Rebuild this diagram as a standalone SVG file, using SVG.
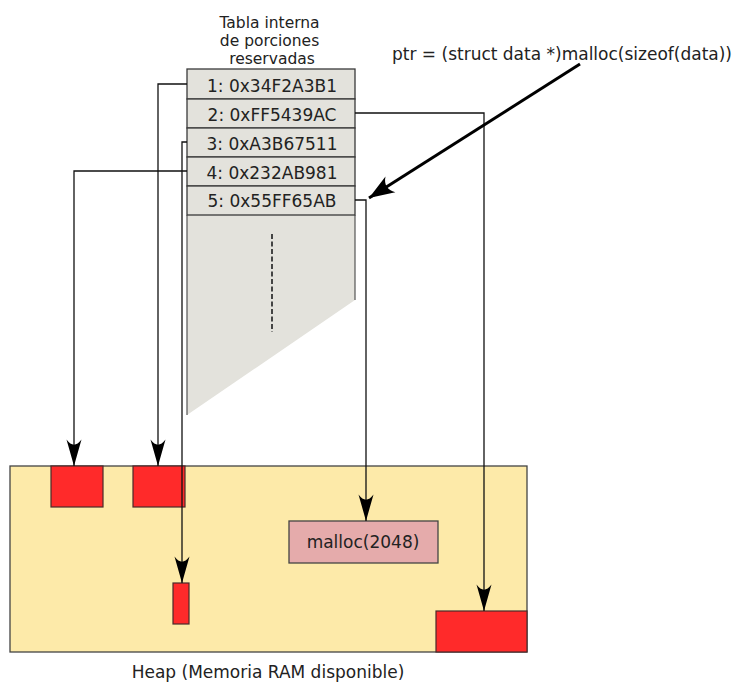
<svg xmlns="http://www.w3.org/2000/svg" width="735" height="682" viewBox="0 0 735 682">
  <style>
    .t { font-family: "DejaVu Sans", "Liberation Sans", sans-serif; fill: #222; }
    .row { fill: #e3e2dc; stroke: #3a3a3a; stroke-width: 1.3; }
    .blk { fill: #ff2a2a; stroke: #4a2a2a; stroke-width: 1.2; }
    .link { fill: none; stroke: #111; stroke-width: 1.3; marker-end: url(#dart); }
  </style>
  <defs>
    <marker id="dart" markerUnits="userSpaceOnUse" markerWidth="30" markerHeight="20" viewBox="-24 -8 26 16" refX="0" refY="0" orient="auto">
      <path d="M0,0 L-23,-6.5 C-17,-2 -17,2 -23,6.5 Z" fill="#000"/>
    </marker>
    <marker id="bigdart" markerUnits="userSpaceOnUse" markerWidth="30" markerHeight="24" viewBox="-24 -10 26 20" refX="0" refY="0" orient="auto">
      <path d="M0,0 L-22,-8 C-17,-3 -17,3 -22,8 Z" fill="#000"/>
    </marker>
  </defs>

  <!-- heap area -->
  <g id="heap">
    <rect x="10" y="466" width="517" height="186" fill="#fdeaa9" stroke="#444" stroke-width="1.3"/>
    <text class="t" x="268" y="678" font-size="17" text-anchor="middle">Heap (Memoria RAM disponible)</text>
  </g>
  <g id="block1"><rect class="blk" x="51" y="466" width="52" height="41"/></g>
  <g id="block2"><rect class="blk" x="133" y="466" width="52" height="41"/></g>
  <g id="block3"><rect class="blk" x="173" y="583" width="16" height="41"/></g>
  <g id="block4"><rect class="blk" x="436" y="611" width="91" height="41"/></g>
  <g id="malloc">
    <rect x="289" y="521" width="149" height="42" fill="#e5abab" stroke="#444" stroke-width="1.3"/>
    <text class="t" x="363" y="548" font-size="17" text-anchor="middle">malloc(2048)</text>
  </g>

  <!-- allocation table -->
  <g id="table">
    <text class="t" font-size="15.5" text-anchor="middle">
      <tspan x="272" y="28">Tabla interna</tspan>
      <tspan x="272" y="46">de porciones</tspan>
      <tspan x="272" y="64">reservadas</tspan>
    </text>
    <path d="M187,215 H355 V300 L187,415 Z" fill="#e3e2dc"/>
    <path d="M355,215 V300 M187,215 V415" stroke="#555" stroke-width="1.2" fill="none"/>
    <line x1="272" y1="234" x2="272" y2="332" stroke="#444" stroke-width="2" stroke-dasharray="5,2.5"/>
  </g>
  <g id="row1"><rect class="row" x="187" y="69" width="168" height="30"/><text class="t" x="272" y="92" font-size="17" text-anchor="middle">1: 0x34F2A3B1</text></g>
  <g id="row2"><rect class="row" x="187" y="99" width="168" height="29"/><text class="t" x="272" y="121" font-size="17" text-anchor="middle">2: 0xFF5439AC</text></g>
  <g id="row3"><rect class="row" x="187" y="128" width="168" height="29"/><text class="t" x="272" y="150" font-size="17" text-anchor="middle">3: 0xA3B67511</text></g>
  <g id="row4"><rect class="row" x="187" y="157" width="168" height="29"/><text class="t" x="272" y="179" font-size="17" text-anchor="middle">4: 0x232AB981</text></g>
  <g id="row5"><rect class="row" x="187" y="186" width="168" height="29"/><text class="t" x="272" y="207" font-size="17" text-anchor="middle">5: 0x55FF65AB</text></g>

  <g id="call">
    <text class="t" x="392" y="60" font-size="17">ptr = (struct data *)malloc(sizeof(data))</text>
  </g>

  <!-- connectors -->
  <g id="connectors">
    <path class="link" d="M187,84 H158 V466"/>
    <path class="link" d="M355,113 H484 V611"/>
    <path class="link" d="M187,142 H182 V583"/>
    <path class="link" d="M187,171 H74 V466"/>
    <path class="link" d="M355,200 H366 V521"/>
    <path d="M580,64 L369,198" stroke="#000" stroke-width="3" fill="none" marker-end="url(#bigdart)"/>
  </g>
</svg>
